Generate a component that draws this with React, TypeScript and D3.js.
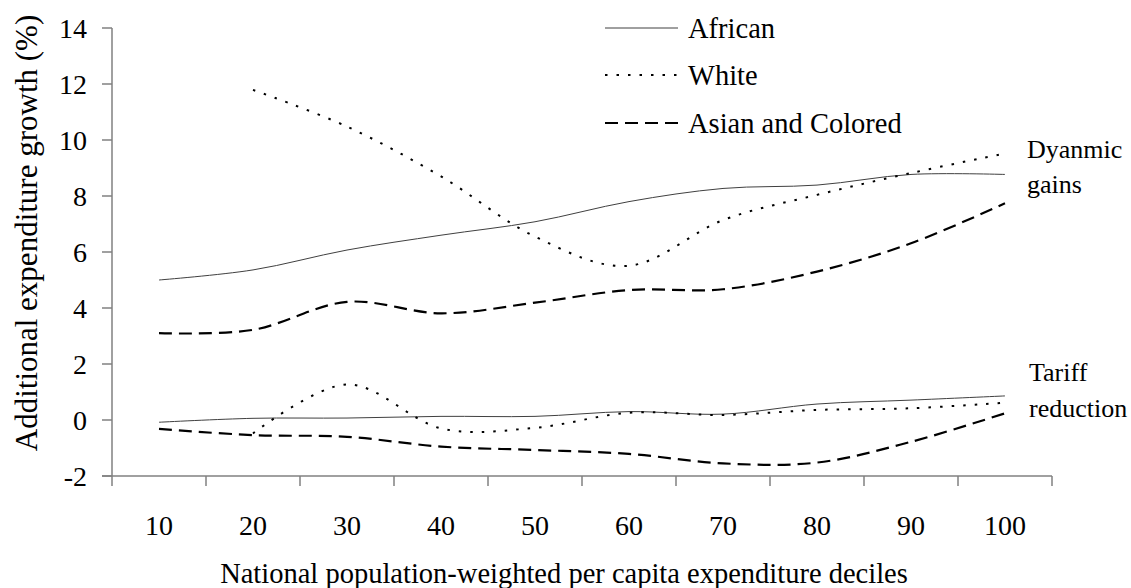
import React from "react";
import * as d3 from "d3";

const deciles = ["10", "20", "30", "40", "50", "60", "70", "80", "90", "100"];
const yTicks = [-2, 0, 2, 4, 6, 8, 10, 12, 14];

const africanDynamic = [5.0, 5.36, 6.07, 6.6, 7.08, 7.8, 8.27, 8.39, 8.77, 8.77];
const whiteDynamic = [null, 11.79, 10.48, 8.7, 6.55, 5.51, 7.14, 8.04, 8.82, 9.52];
const asianDynamic = [3.1, 3.22, 4.22, 3.81, 4.19, 4.64, 4.67, 5.3, 6.31, 7.74];

const africanTariff = [-0.08, 0.06, 0.07, 0.13, 0.13, 0.3, 0.21, 0.57, 0.71, 0.86];
const whiteTariff = [null, -0.48, 1.27, -0.3, -0.28, 0.26, 0.18, 0.36, 0.42, 0.62];
const asianTariff = [-0.32, -0.54, -0.6, -0.95, -1.07, -1.21, -1.55, -1.52, -0.78, 0.24];

const seriesNames = ["African", "White", "Asian and Colored"];

const W = 1131;
const H = 588;
const left = 112;
const right = 1052;
const top = 28;
const bottom = 476;
const FONT = '"Liberation Serif", "Times New Roman", Tinos, "DejaVu Serif", serif';

const styles = [
  { stroke: "#404040", width: 1, dash: "none" },
  { stroke: "#000", width: 2, dash: "2.5 9" },
  { stroke: "#000", width: 2.2, dash: "13 7" },
];

const T = (props: any) => {
  const { size, children, ...rest } = props;
  return (
    <text {...rest} fill="#000" style={{ fontFamily: FONT, fontSize: size + "px" }}>
      {children}
    </text>
  );
};

export default function App() {
  const x = d3.scaleBand<string>().domain(deciles).range([left, right]);
  const y = d3.scaleLinear().domain([-2, 14]).range([bottom, top]);
  const cx = (i: number) => (x(deciles[i]) as number) + x.bandwidth() / 2;

  const line = d3
    .line<number | null>()
    .defined((d) => d !== null)
    .x((_, i) => cx(i))
    .y((d) => y(d as number))
    .curve(d3.curveCardinal.tension(0));

  const groups = [
    [africanDynamic, whiteDynamic, asianDynamic],
    [africanTariff, whiteTariff, asianTariff],
  ];

  const legendY = [28, 75, 123];

  return (
    <svg
      width={W}
      height={H}
      style={{ position: "absolute", left: 0, top: 0, background: "#fff" }}
    >
      <rect width={W} height={H} fill="#fff" />
      {/* axes */}
      <line x1={left} x2={left} y1={top} y2={bottom} stroke="#808080" strokeWidth={1.5} />
      <line x1={left - 10} x2={right} y1={bottom} y2={bottom} stroke="#808080" strokeWidth={1.5} />
      {yTicks.map((t) => (
        <g key={t}>
          <line x1={left - 10} x2={left} y1={y(t)} y2={y(t)} stroke="#808080" strokeWidth={1.5} />
          <T x={left - 25} y={y(t)} dy="0.35em" textAnchor="end" size={28}>
            {t}
          </T>
        </g>
      ))}
      {d3.range(deciles.length + 1).map((i) => {
        const xx = left + i * x.step();
        return <line key={i} x1={xx} x2={xx} y1={bottom} y2={bottom + 10} stroke="#808080" strokeWidth={1.5} />;
      })}
      {deciles.map((d, i) => (
        <T key={d} x={cx(i)} y={535} textAnchor="middle" size={28}>
          {d}
        </T>
      ))}
      <T x={564} y={583} textAnchor="middle" size={28.5}>
        National population-weighted per capita expenditure deciles
      </T>
      <T transform={`translate(37, 233) rotate(-90)`} textAnchor="middle" size={31}>
        Additional expenditure growth (%)
      </T>

      {/* lines */}
      {groups.map((g, gi) =>
        g.map((s, si) => (
          <path
            key={`${gi}-${si}`}
            d={line(s) || ""}
            fill="none"
            stroke={styles[si].stroke}
            strokeWidth={styles[si].width}
            strokeDasharray={styles[si].dash}
          />
        ))
      )}

      {/* legend */}
      {seriesNames.map((n, i) => (
        <g key={n}>
          <line
            x1={605}
            x2={678}
            y1={legendY[i]}
            y2={legendY[i]}
            stroke={styles[i].stroke}
            strokeWidth={styles[i].width}
            strokeDasharray={styles[i].dash}
          />
          <T x={688} y={legendY[i] + 10} size={28.5}>
            {n}
          </T>
        </g>
      ))}

      {/* annotations */}
      <T x={1027} y={158} size={26}>Dyanmic</T>
      <T x={1027} y={193} size={26}>gains</T>
      <T x={1029} y={381} size={26}>Tariff</T>
      <T x={1029} y={417} size={26}>reduction</T>
    </svg>
  );
}
